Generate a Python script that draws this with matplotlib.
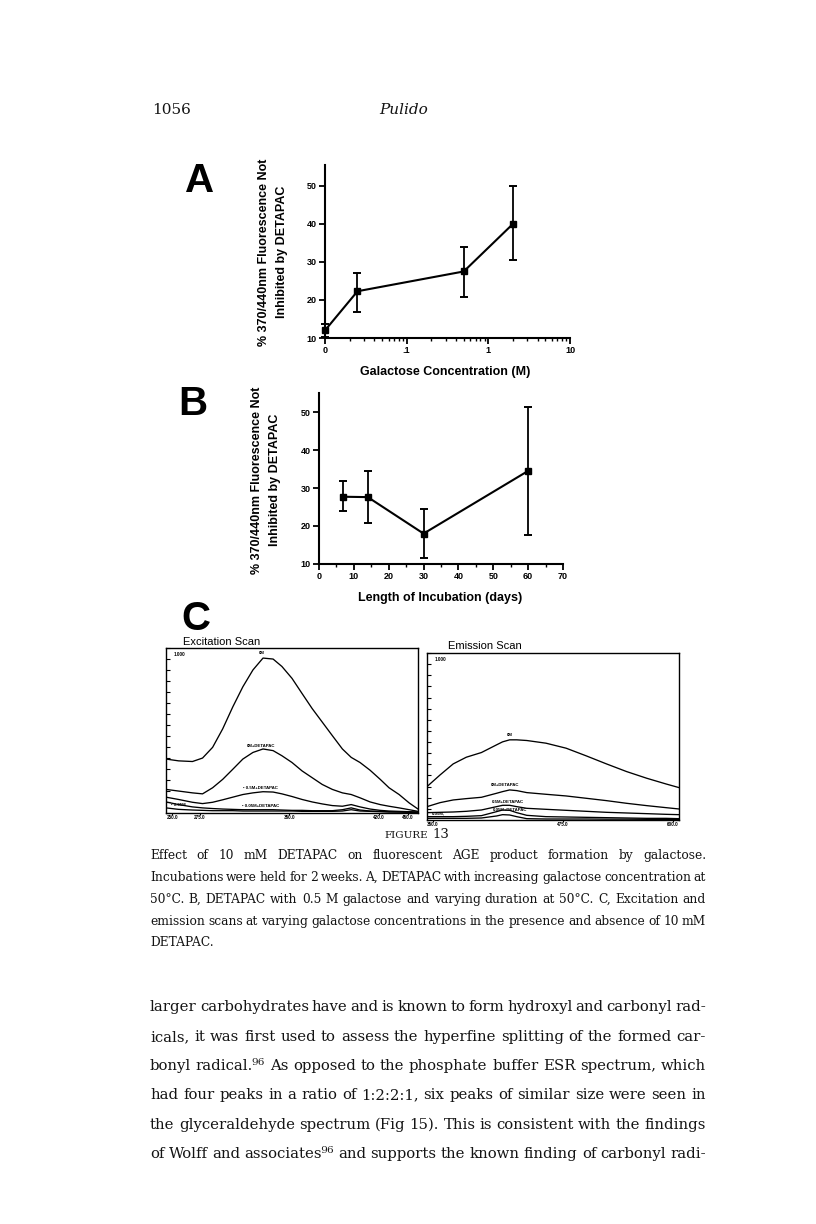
import numpy as np
import matplotlib
matplotlib.use('Agg')
import matplotlib.pyplot as plt
from matplotlib.ticker import LogLocator, NullFormatter, MultipleLocator, FixedLocator

# ---------------- data ----------------
# Panel A: galactose concentration (M) vs % fluorescence not inhibited
conc_A = [0.0, 0.025, 0.5, 2.0]
mean_A = [12.0, 22.3, 27.5, 40.0]
hi_A = [13.8, 27.2, 34.0, 50.0]
lo_A = [10.2, 16.9, 20.7, 30.4]
xticks_A = [0.01, 0.1, 1, 10]
xticklabels_A = ['0', '.1', '1', '10']

# Panel B: incubation length (days)
days_B = [7, 14, 30, 60]
mean_B = [27.7, 27.6, 18.0, 34.5]
hi_B = [31.8, 34.4, 24.4, 51.3]
lo_B = [23.9, 20.9, 11.7, 17.6]
yticks_AB = [10, 20, 30, 40, 50]

# Panel C: excitation scan (relative intensity, full scale 1.000)
exc_nm = [250, 260, 271, 279, 287, 295, 303, 311, 319, 327, 335, 342, 350,
          358, 366, 374, 382, 390, 397, 404, 412, 420, 427, 435, 443, 450]
exc_0M = [.327, .316, .312, .333, .398, .510, .643, .765, .867, .939, .933, .888, .816,
          .724, .633, .551, .469, .388, .337, .306, .259, .204, .153, .112, .061, .024]
exc_0M_D = [.143, .133, .122, .116, .153, .204, .265, .327, .367, .388, .378, .347, .306,
            .255, .214, .173, .143, .122, .112, .092, .067, .051, .041, .031, .020, .010]
exc_05M_D = [.096, .082, .065, .057, .065, .080, .096, .112, .122, .129, .127, .116, .100,
             .082, .067, .055, .045, .041, .051, .037, .024, .016, .012, .010, .008, .006]
exc_005M_D = [.067, .051, .037, .031, .027, .024, .022, .020, .020, .020, .020, .018, .016,
              .016, .014, .014, .014, .020, .031, .018, .012, .010, .008, .006, .006, .004]
exc_low = [.031, .022, .018, .016, .014, .014, .014, .012, .012, .012, .012, .012, .012,
           .010, .010, .010, .010, .012, .020, .012, .010, .008, .006, .006, .004, .004]

# Panel C: emission scan
em_nm = [350, 363, 376, 389, 404, 419, 425, 432, 439, 449, 468, 488, 508, 528, 548, 568, 587, 600]
em_0M = [.200, .270, .336, .376, .404, .450, .468, .480, .480, .476, .460, .430, .384, .336,
         .290, .250, .216, .194]
em_0M_D = [.080, .104, .120, .128, .136, .160, .170, .180, .176, .164, .154, .144, .130, .116,
           .100, .086, .074, .066]
em_05M_D = [.044, .046, .048, .052, .060, .080, .088, .088, .080, .070, .064, .058, .052, .046,
            .042, .038, .034, .032]
em_005M_D = [.020, .020, .020, .022, .026, .050, .060, .058, .044, .028, .020, .018, .016, .014,
             .012, .010, .010, .008]
em_low = [.010, .010, .010, .010, .012, .024, .032, .030, .020, .008, .006, .006, .006, .005,
          .005, .004, .004, .004]

exc_tick_nm = [255, 277, 348, 419, 442]
exc_tick_lbl = ['250.0', '275.0', '350.0', '420.0', '450.0']
em_tick_nm = [356, 485, 594]
em_tick_lbl = ['350.0', '475.0', '600.0']

# ---------------- text ----------------
caption_lines = [
    "Effect of 10 mM DETAPAC on fluorescent AGE product formation by galactose.",
    "Incubations were held for 2 weeks. A, DETAPAC with increasing galactose concentration at",
    "50°C. B, DETAPAC with 0.5 M galactose and varying duration at 50°C. C, Excitation and",
    "emission scans at varying galactose concentrations in the presence and absence of 10 mM",
    "DETAPAC.",
]
body_lines = [
    "larger carbohydrates have and is known to form hydroxyl and carbonyl rad-",
    "icals, it was first used to assess the hyperfine splitting of the formed car-",
    "bonyl radical.⁹⁶ As opposed to the phosphate buffer ESR spectrum, which",
    "had four peaks in a ratio of 1:2:2:1, six peaks of similar size were seen in",
    "the glyceraldehyde spectrum (Fig 15). This is consistent with the findings",
    "of Wolff and associates⁹⁶ and supports the known finding of carbonyl radi-",
]

# ---------------- figure ----------------
W, H = 816, 1224
fig = plt.figure(figsize=(W / 100, H / 100), dpi=100)
fig.patch.set_facecolor('white')
SANS = 'Liberation Sans'
SERIF = ['DejaVu Serif Condensed', 'DejaVu Serif']
INK = '#141414'


def fx(px):
    return px / W


def fy(py):
    return 1 - py / H


def box(l, t, r, b):
    return [fx(l), fy(b), (r - l) / W, (b - t) / H]


renderer = fig.canvas.get_renderer()


def text_w(s, size, family, style='normal'):
    t = fig.text(0, 0, s, fontsize=size, family=family, style=style)
    w = t.get_window_extent(renderer).width
    t.remove()
    return w


def block_size(lines, x0, x1, size, family):
    # shrink the block uniformly if any line would not fit with normal word gaps
    scale = 1.0
    for s in lines:
        words = s.split(' ')
        nat = sum(text_w(w, size, family) for w in words) + (len(words) - 1) * size * 100 / 72 * 0.22
        scale = min(scale, (x1 - x0) / nat)
    return size * scale


def draw_line(s, x0, x1, ybase, size, family, justify=True):
    words = s.split(' ')
    widths = [text_w(w, size, family) for w in words]
    if justify and len(words) > 1:
        gap = (x1 - x0 - sum(widths)) / (len(words) - 1)
    else:
        gap = size * 100 / 72 * 0.27
    x = x0
    for w, wd in zip(words, widths):
        fig.text(fx(x), fy(ybase), w, fontsize=size, family=family,
                 ha='left', va='baseline', color=INK)
        x += wd + gap


# header
fig.text(fx(152), fy(114), '1056', fontsize=11, family=SERIF, ha='left', va='baseline', color=INK)
fig.text(fx(404), fy(114), 'Pulido', fontsize=11, family=SERIF, style='italic', ha='center',
         va='baseline', color=INK)

# panel letters
for letter, (px, py) in zip('ABC', [(200, 181), (193, 404), (196, 619)]):
    fig.text(fx(px), fy(py), letter, fontsize=29, family=SANS, weight='bold', ha='center', va='center')

ylabel_txt = '% 370/440nm Fluorescence Not\nInhibited by DETAPAC'


def style_xy(ax):
    for s in ['top', 'right']:
        ax.spines[s].set_visible(False)
    for s in ['left', 'bottom']:
        ax.spines[s].set_linewidth(1.5)
    ax.tick_params(axis='both', which='major', direction='out', length=4, width=1.3,
                   labelsize=6.5, pad=2)
    ax.tick_params(axis='both', which='minor', direction='out', length=2.5, width=1.0)
    for lab in ax.get_xticklabels() + ax.get_yticklabels():
        lab.set_fontweight('bold')
        lab.set_family(SANS)
    ax.patch.set_alpha(0)


# Panel A
axA = fig.add_axes(box(325, 165, 570, 338))
xA = np.where(np.array(conc_A) == 0, xticks_A[0], conc_A)
mA = np.array(mean_A)
axA.errorbar(xA, mA, yerr=[mA - np.array(lo_A), np.array(hi_A) - mA], fmt='-s', color='black',
             lw=1.5, ms=5, capsize=3, capthick=1.4, elinewidth=1.3, clip_on=False, zorder=5)
axA.set_xscale('log')
axA.set_xlim(0.01, 10)
axA.set_ylim(10, 55.5)
axA.xaxis.set_major_locator(FixedLocator(xticks_A))
axA.set_xticklabels(xticklabels_A)
axA.xaxis.set_minor_locator(LogLocator(base=10, subs=np.arange(2, 10)))
axA.xaxis.set_minor_formatter(NullFormatter())
axA.set_yticks(yticks_AB)
style_xy(axA)
fig.text(fx(273), fy(252), ylabel_txt, rotation=90, fontsize=9, family=SANS, weight='bold',
         ha='center', va='center', multialignment='center', linespacing=1.75)
fig.text(fx(445), fy(372), 'Galactose Concentration (M)', fontsize=9, family=SANS, weight='bold',
         ha='center', va='center')

# Panel B
axB = fig.add_axes(box(319, 393, 563, 564))
mB = np.array(mean_B)
axB.errorbar(days_B, mB, yerr=[mB - np.array(lo_B), np.array(hi_B) - mB], fmt='-s', color='black',
             lw=1.5, ms=5, capsize=3, capthick=1.4, elinewidth=1.3, clip_on=False, zorder=5)
axB.set_xlim(0, 70)
axB.set_ylim(10, 55)
axB.set_yticks(yticks_AB)
axB.xaxis.set_major_locator(MultipleLocator(10))
axB.xaxis.set_minor_locator(MultipleLocator(5))
style_xy(axB)
fig.text(fx(266), fy(480), ylabel_txt, rotation=90, fontsize=9, family=SANS, weight='bold',
         ha='center', va='center', multialignment='center', linespacing=1.65)
fig.text(fx(440), fy(598), 'Length of Incubation (days)', fontsize=9, family=SANS, weight='bold',
         ha='center', va='center')


# Panel C scans
def scan_axes(rect, xs, curves, xlim, tick_x, tick_lbl, title, title_xy, labels):
    ax = fig.add_axes(rect)
    for c in curves:
        ax.plot(xs, c, color='black', lw=0.95)
    ax.set_xlim(*xlim)
    ax.set_ylim(0, 1.0)
    for s in ax.spines.values():
        s.set_linewidth(1.0)
    ax.yaxis.set_major_locator(FixedLocator(np.linspace(0, 1, 16)))
    ax.tick_params(axis='y', direction='in', length=3, width=0.8, labelleft=False)
    ax.xaxis.set_major_locator(FixedLocator(tick_x))
    ax.tick_params(axis='x', direction='out', length=1.5, width=0.8, labelbottom=False)
    for tx, tl in zip(tick_x, tick_lbl):
        ax.text(tx, -0.012, tl, fontsize=3.3, family=SANS, weight='bold', ha='center', va='top',
                transform=ax.get_xaxis_transform())
    ax.text(0.03, 0.975, '1.000', fontsize=3.3, family=SANS, weight='bold', ha='left', va='top',
            transform=ax.transAxes)
    for (lx, ly, lt) in labels:
        ax.text(lx, ly, lt, fontsize=3.2, family=SANS, weight='bold', ha='center', va='bottom',
                transform=ax.transAxes)
    fig.text(fx(title_xy[0]), fy(title_xy[1]), title, fontsize=8, family=SANS, ha='left',
             va='center')
    return ax


scan_axes(box(166, 648, 418, 813), exc_nm,
          [exc_0M, exc_0M_D, exc_05M_D, exc_005M_D, exc_low], (250, 450),
          exc_tick_nm, exc_tick_lbl, 'Excitation Scan', (183, 642),
          [(0.38, 0.955, '0M'), (0.376, 0.395, '0M+DETAPAC'), (0.376, 0.14, '• 0.5M+DETAPAC'),
           (0.376, 0.03, '• 0.05M+DETAPAC'), (0.05, 0.035, '• 0.05M')])
scan_axes(box(427, 653, 679, 820), em_nm,
          [em_0M, em_0M_D, em_05M_D, em_005M_D, em_low], (350, 600),
          em_tick_nm, em_tick_lbl, 'Emission Scan', (448, 646),
          [(0.328, 0.495, '0M'), (0.312, 0.195, '0M+DETAPAC'), (0.321, 0.095, '0.5M+DETAPAC'),
           (0.328, 0.05, '0.05M+DETAPAC'), (0.044, 0.03, '0.05M,')])

# caption
fig.text(fx(406), fy(838), 'FIGURE', fontsize=7.5, family=SERIF, ha='center', va='baseline', color=INK)
fig.text(fx(432), fy(838), '13', fontsize=9.5, family=SERIF, ha='left', va='baseline', color=INK)
cap_size = block_size(caption_lines, 150, 706, 9.6, SERIF)
cap_base = [859, 881, 903, 925, 946]
for i, (ln, yb) in enumerate(zip(caption_lines, cap_base)):
    draw_line(ln, 150, 706, yb, cap_size, SERIF, justify=(i < len(caption_lines) - 1))

# body
body_size = block_size(body_lines, 150, 706, 12.0, SERIF)
body_base = [1011, 1041, 1070, 1099, 1129, 1158]
for ln, yb in zip(body_lines, body_base):
    draw_line(ln, 150, 706, yb, body_size, SERIF, justify=True)

fig.savefig('out.png', dpi=100, facecolor='white')
